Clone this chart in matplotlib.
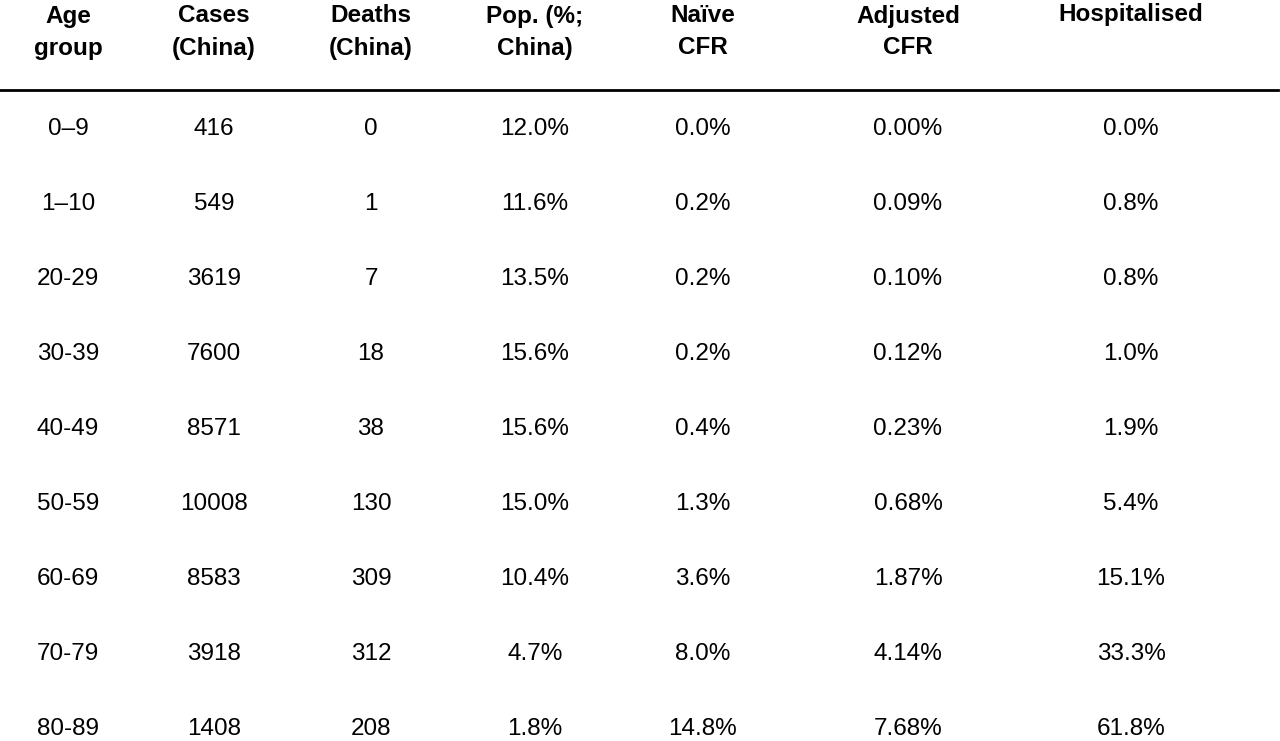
import matplotlib
matplotlib.use("Agg")
import matplotlib.pyplot as plt

headers = ["Age\ngroup", "Cases\n(China)", "Deaths\n(China)", "Pop. (%;\nChina)", "Naïve\nCFR", "Adjusted\nCFR", "Hospitalised"]
age_groups = ["0–9", "1–10", "20-29", "30-39", "40-49", "50-59", "60-69", "70-79", "80-89"]
cases = [416, 549, 3619, 7600, 8571, 10008, 8583, 3918, 1408]
deaths = [0, 1, 7, 18, 38, 130, 309, 312, 208]
pop_pct = [12.0, 11.6, 13.5, 15.6, 15.6, 15.0, 10.4, 4.7, 1.8]
naive_cfr = [0.0, 0.2, 0.2, 0.2, 0.4, 1.3, 3.6, 8.0, 14.8]
adjusted_cfr = [0.00, 0.09, 0.10, 0.12, 0.23, 0.68, 1.87, 4.14, 7.68]
hospitalised = [0.0, 0.8, 0.8, 1.0, 1.9, 5.4, 15.1, 33.3, 61.8]

W, H = 1280, 741
fig = plt.figure(figsize=(W/100, H/100), dpi=100)
fig.patch.set_facecolor("white")
plt.rcParams['font.family'] = ['Liberation Sans', 'DejaVu Sans']

col_x = [68, 214, 371, 535, 703, 908, 1131]
def P(x, y):
    return x / W, 1 - y / H

for x, h in zip(col_x, headers):
    if "\n" in h:
        fig.text(*P(x, 32), h, ha="center", va="center", fontsize=17.5,
                 fontweight="bold", linespacing=1.5)
    else:
        fig.text(*P(x, 15), h, ha="center", va="center", fontsize=17.5,
                 fontweight="bold")

fig.add_artist(plt.Line2D([0, 1278/W], [1-90/H]*2, color="black", lw=2))

rows = list(zip(age_groups, [str(c) for c in cases], [str(d) for d in deaths],
                [f"{p:.1f}%" for p in pop_pct], [f"{v:.1f}%" for v in naive_cfr],
                [f"{v:.2f}%" for v in adjusted_cfr], [f"{v:.1f}%" for v in hospitalised]))
for i, row in enumerate(rows):
    y = 129 + 75 * i
    for x, t in zip(col_x, row):
        fig.text(*P(x, y), t, ha="center", va="center", fontsize=17.5)

fig.savefig("out.png", dpi=100)
